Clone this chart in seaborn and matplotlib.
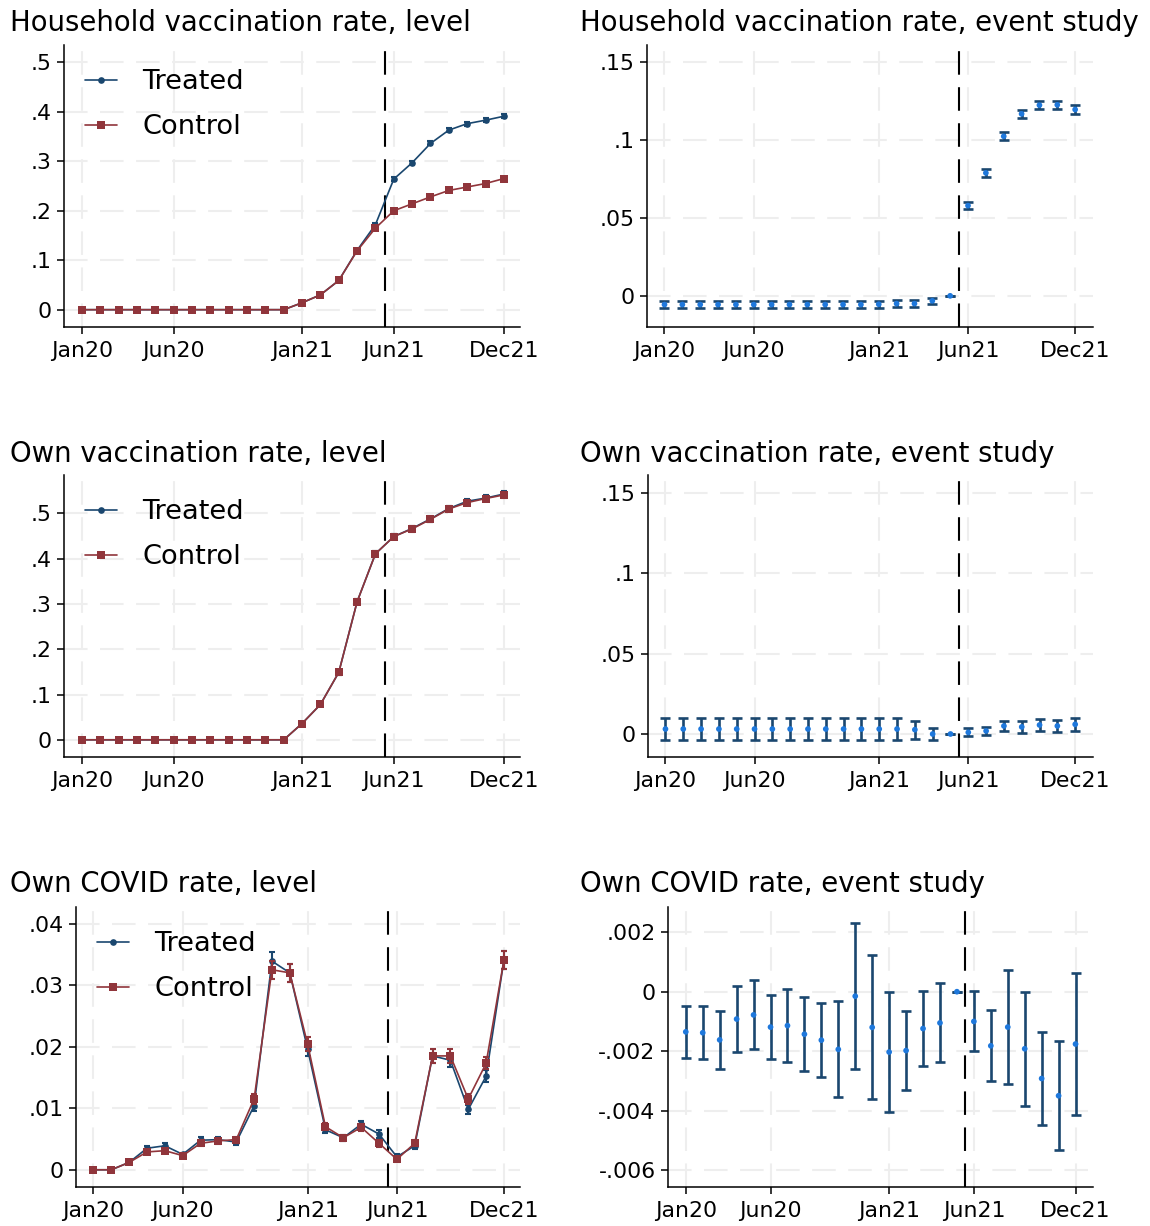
import numpy as np
import pandas as pd
import matplotlib
matplotlib.use("Agg")
import matplotlib.pyplot as plt
import seaborn as sns

# month index 0 = Jan20 ... 23 = Dec21
months = list(range(24))
tick_pos = [0, 5, 12, 17, 23]
tick_labels = ["Jan20", "Jun20", "Jan21", "Jun21", "Dec21"]
event_month = 16.5

# --- household vaccination, level ---
hh_treated = [0, 0, 0, 0, 0, 0, 0, 0, 0, 0, 0, 0,
              0.014, 0.030, 0.059, 0.120, 0.172, 0.264, 0.297, 0.336, 0.363, 0.376, 0.383, 0.391]
hh_control = [0, 0, 0, 0, 0, 0, 0, 0, 0, 0, 0, 0,
              0.014, 0.030, 0.059, 0.119, 0.165, 0.200, 0.214, 0.228, 0.241, 0.248, 0.255, 0.265]
hh_treated_se = [0, 0, 0, 0, 0, 0, 0, 0, 0, 0, 0, 0,
                 0.002, 0.002, 0.003, 0.003, 0.003, 0.004, 0.004, 0.004, 0.004, 0.004, 0.004, 0.004]
hh_control_se = [0, 0, 0, 0, 0, 0, 0, 0, 0, 0, 0, 0,
                 0.002, 0.002, 0.003, 0.003, 0.003, 0.003, 0.003, 0.003, 0.003, 0.003, 0.003, 0.003]

# --- household vaccination, event study ---
hh_es = [-0.0056, -0.0056, -0.0056, -0.0056, -0.0056, -0.0056, -0.0056, -0.0056, -0.0056, -0.0056,
         -0.0056, -0.0056, -0.0054, -0.0050, -0.0050, -0.0032, 0.0, 0.0579, 0.0789, 0.1024,
         0.1168, 0.1224, 0.1226, 0.1196]
hh_es_se = [0.0024, 0.0024, 0.0024, 0.0024, 0.0024, 0.0024, 0.0024, 0.0024, 0.0024, 0.0024,
            0.0024, 0.0024, 0.0024, 0.0024, 0.0024, 0.0018, 0.0, 0.0024, 0.0024, 0.0025,
            0.0025, 0.0026, 0.0026, 0.0026]

# --- own vaccination, level ---
own_treated = [0, 0, 0, 0, 0, 0, 0, 0, 0, 0, 0, 0,
               0.036, 0.078, 0.149, 0.305, 0.411, 0.449, 0.467, 0.488, 0.511, 0.527, 0.534, 0.543]
own_control = [0, 0, 0, 0, 0, 0, 0, 0, 0, 0, 0, 0,
               0.036, 0.078, 0.149, 0.305, 0.411, 0.449, 0.466, 0.487, 0.510, 0.524, 0.533, 0.541]
own_treated_se = [0, 0, 0, 0, 0, 0, 0, 0, 0, 0, 0, 0,
                  0.003, 0.004, 0.005, 0.006, 0.006, 0.006, 0.006, 0.006, 0.006, 0.006, 0.006, 0.006]
own_control_se = [0, 0, 0, 0, 0, 0, 0, 0, 0, 0, 0, 0,
                  0.003, 0.004, 0.005, 0.006, 0.006, 0.006, 0.006, 0.006, 0.006, 0.006, 0.006, 0.006]

# --- own vaccination, event study ---
own_es = [0.0031, 0.0031, 0.0031, 0.0031, 0.0031, 0.0031, 0.0031, 0.0031, 0.0031, 0.0031,
          0.0031, 0.0031, 0.0031, 0.0031, 0.0027, 0.0, 0.0, 0.0010, 0.0019, 0.0050,
          0.0044, 0.0056, 0.0050, 0.0060]
own_es_se = [0.0068, 0.0068, 0.0068, 0.0068, 0.0068, 0.0068, 0.0068, 0.0068, 0.0068, 0.0068,
             0.0068, 0.0068, 0.0068, 0.0068, 0.0055, 0.0040, 0.0, 0.0025, 0.0027, 0.0030,
             0.0035, 0.0040, 0.0040, 0.0042]

# --- own COVID, level ---
covid_treated = [0, 0, 0.0012, 0.0035, 0.0039, 0.0025, 0.0048, 0.0049, 0.0045, 0.0104, 0.0339, 0.0320,
                 0.0196, 0.0065, 0.0052, 0.0074, 0.0058, 0.0021, 0.0039, 0.0185, 0.0178, 0.0098, 0.0152, 0.0341]
covid_control = [0, 0, 0.0012, 0.0029, 0.0031, 0.0023, 0.0043, 0.0047, 0.0049, 0.0115, 0.0325, 0.0320,
                 0.0204, 0.0070, 0.0052, 0.0069, 0.0043, 0.0017, 0.0043, 0.0185, 0.0185, 0.0115, 0.0173, 0.0341]
covid_treated_se = [0, 0, 0.0002, 0.0004, 0.0004, 0.0003, 0.0005, 0.0005, 0.0005, 0.0008, 0.0015, 0.0015,
                    0.0011, 0.0006, 0.0005, 0.0006, 0.0006, 0.0004, 0.0005, 0.0011, 0.0011, 0.0008, 0.0010, 0.0015]
covid_control_se = [0, 0, 0.0002, 0.0004, 0.0004, 0.0003, 0.0005, 0.0005, 0.0005, 0.0008, 0.0015, 0.0015,
                    0.0011, 0.0006, 0.0005, 0.0006, 0.0006, 0.0004, 0.0005, 0.0011, 0.0011, 0.0008, 0.0010, 0.0014]

# --- own COVID, event study (point, upper, lower) ---
covid_es = [-0.00135, -0.00138, -0.00162, -0.00092, -0.00078, -0.00119, -0.00114, -0.00143,
            -0.00163, -0.00194, -0.00015, -0.00120, -0.00203, -0.00198, -0.00124, -0.00105,
            0.0, -0.00100, -0.00182, -0.00119, -0.00192, -0.00292, -0.00350, -0.00176]
covid_es_hi = [-0.00047, -0.00048, -0.00065, 0.00019, 0.00038, -0.00011, 0.00009, -0.00018,
               -0.00039, -0.00032, 0.00232, 0.00122, 0.0, -0.00064, 0.00003, 0.00028,
               0.0, 0.00001, -0.00063, 0.00074, -0.00001, -0.00135, -0.00167, 0.00064]
covid_es_lo = [-0.00224, -0.00226, -0.00260, -0.00203, -0.00192, -0.00226, -0.00238, -0.00267,
               -0.00286, -0.00354, -0.00261, -0.00361, -0.00405, -0.00332, -0.00251, -0.00237,
               0.0, -0.00200, -0.00302, -0.00310, -0.00384, -0.00449, -0.00533, -0.00415]

NAVY = "#1a476f"
MAROON = "#90353b"
BLUE = "#1e78dc"
GRID = "#eeeeee"
DASH = (11.3, 6)

sns.set_style("ticks", {"text.color": "black", "xtick.color": "black", "ytick.color": "black",
                        "axes.edgecolor": "black", "axes.labelcolor": "black"})
plt.rcParams["font.family"] = ["DejaVu Sans"]
plt.rcParams["xtick.labelsize"] = 15.8
plt.rcParams["ytick.labelsize"] = 15.8

W, H = 1150, 1226
fig = plt.figure(figsize=(W / 100, H / 100), dpi=100)


def add_ax(left, right, top, bottom):
    return fig.add_axes([left / W, 1 - bottom / H, (right - left) / W, (bottom - top) / H])


def style_ax(ax, yticks, ylabels, ylim, xlim):
    ax.set_xlim(*xlim)
    ax.set_ylim(*ylim)
    ax.set_xticks(tick_pos)
    ax.set_xticklabels(tick_labels)
    ax.set_yticks(yticks)
    ax.set_yticklabels(ylabels)
    for x in tick_pos:
        ax.axvline(x, color=GRID, lw=1.5, dashes=DASH, zorder=0)
    for y in yticks:
        ax.axhline(y, color=GRID, lw=1.5, dashes=DASH, zorder=0)
    ax.axvline(event_month, color="black", lw=1.5, dashes=DASH, zorder=1)
    sns.despine(ax=ax)
    for s in ["left", "bottom"]:
        ax.spines[s].set_linewidth(1.1)
    ax.tick_params(length=5, width=1.1)
    ax.tick_params(axis="x", pad=5)
    ax.tick_params(axis="y", pad=4)
    ax.set_xlabel("")
    ax.set_ylabel("")


def level_panel(ax, treated, control, t_se, c_se):
    ax.errorbar(months, treated, yerr=t_se, fmt="none", ecolor=NAVY, elinewidth=1.5,
                capsize=2.5, capthick=1.5, zorder=2)
    sns.lineplot(x=months, y=treated, ax=ax, color=NAVY, marker="o", markersize=4.8,
                 markeredgewidth=0, linewidth=1.2, label="Treated", zorder=3)
    ax.errorbar(months, control, yerr=c_se, fmt="none", ecolor=MAROON, elinewidth=1.5,
                capsize=2.5, capthick=1.5, zorder=4)
    sns.lineplot(x=months, y=control, ax=ax, color=MAROON, marker="s", markersize=5.2,
                 markeredgewidth=0, linewidth=1.2, label="Control", zorder=5)
    ax.legend(loc="upper left", bbox_to_anchor=(0, 0.99), frameon=False, fontsize=19.6,
              handlelength=1.18, handletextpad=0.92, labelspacing=0.70, borderaxespad=0.38)


def es_panel(ax, b, lo_err, hi_err):
    ax.errorbar(months, b, yerr=[lo_err, hi_err], fmt="none", ecolor=NAVY, elinewidth=1.9,
                capsize=3.6, capthick=1.9, zorder=2)
    sns.scatterplot(x=months, y=b, ax=ax, color=BLUE, s=17, edgecolor="none", zorder=3)


# row 1
ax = add_ax(64, 520, 45, 327)
level_panel(ax, hh_treated, hh_control, hh_treated_se, hh_control_se)
style_ax(ax, [0, 0.1, 0.2, 0.3, 0.4, 0.5], ["0", ".1", ".2", ".3", ".4", ".5"],
         (-0.035, 0.535), (-0.98, 23.88))

ax = add_ax(647, 1093, 45, 327)
es_panel(ax, hh_es, hh_es_se, hh_es_se)
style_ax(ax, [0, 0.05, 0.1, 0.15], ["0", ".05", ".1", ".15"],
         (-0.020, 0.161), (-0.98, 24.0))

# row 2
ax = add_ax(64, 520, 475, 757)
level_panel(ax, own_treated, own_control, own_treated_se, own_control_se)
style_ax(ax, [0, 0.1, 0.2, 0.3, 0.4, 0.5], ["0", ".1", ".2", ".3", ".4", ".5"],
         (-0.038, 0.585), (-0.98, 23.88))

ax = add_ax(648, 1093, 475, 757)
es_panel(ax, own_es, own_es_se, own_es_se)
style_ax(ax, [0, 0.05, 0.1, 0.15], ["0", ".05", ".1", ".15"],
         (-0.0143, 0.161), (-0.98, 24.0))

# row 3
ax = add_ax(76, 520, 907, 1187)
level_panel(ax, covid_treated, covid_control, covid_treated_se, covid_control_se)
style_ax(ax, [0, 0.01, 0.02, 0.03, 0.04], ["0", ".01", ".02", ".03", ".04"],
         (-0.0028, 0.0427), (-0.98, 23.9))

ax = add_ax(668, 1093, 907, 1187)
c_b = np.array(covid_es)
es_panel(ax, covid_es, c_b - np.array(covid_es_lo), np.array(covid_es_hi) - c_b)
style_ax(ax, [-0.006, -0.004, -0.002, 0, 0.002], ["-.006", "-.004", "-.002", "0", ".002"],
         (-0.00657, 0.00285), (-1.05, 24.03))

titles = [
    (10, 31, "Household vaccination rate, level"),
    (580, 31, "Household vaccination rate, event study"),
    (10, 462, "Own vaccination rate, level"),
    (580, 462, "Own vaccination rate, event study"),
    (10, 892, "Own COVID rate, level"),
    (580, 892, "Own COVID rate, event study"),
]
for x, y, t in titles:
    fig.text(x / W, 1 - y / H, t, fontsize=19.8, ha="left", va="baseline")

fig.savefig("out.png", dpi=100)
